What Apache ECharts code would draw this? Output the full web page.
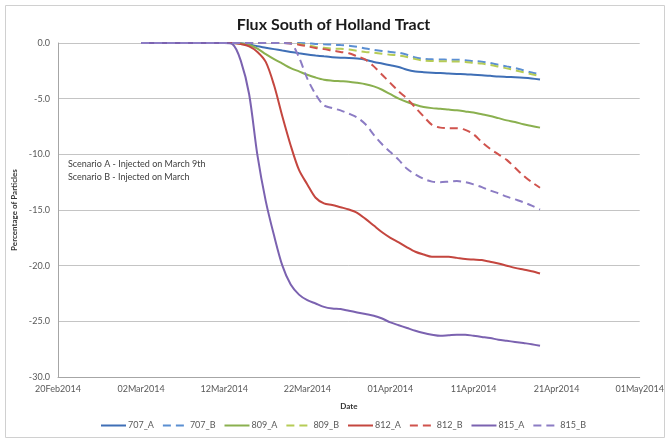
<!DOCTYPE html>
<html>
<head>
<meta charset="utf-8">
<script src="https://cdn.jsdelivr.net/npm/echarts@6/dist/echarts.min.js"></script>
<style>
html,body{margin:0;padding:0;background:#fff;}
#chart{width:667px;height:440px;}
</style>
</head>
<body>
<div id="chart"></div>
<script>
// Days counted from 20Feb2014 (day 0); data run daily from 02Mar2014 (day 10) to 19Apr2014 (day 58)
const days = [10,11,12,13,14,15,16,17,18,19,20,21,22,23,24,25,26,27,28,29,30,31,32,33,34,35,36,37,38,39,40,41,42,43,44,45,46,47,48,49,50,51,52,53,54,55,56,57,58];

const s707_A = [0,0,0,0,0,0,0,0,0,0,0,0,
  -0.03,-0.12,-0.3,-0.42,-0.55,-0.68,-0.8,-0.92,-1.03,-1.12,-1.2,-1.27,-1.32,-1.35,-1.4,-1.5,-1.7,-1.85,-2.0,-2.15,-2.4,-2.55,-2.62,-2.67,-2.7,-2.75,-2.78,-2.8,-2.85,-2.9,-2.95,-3.02,-3.05,-3.08,-3.12,-3.18,-3.27];
const s707_B = [0,0,0,0,0,0,0,0,0,0,0,0,0,0,0,0,0,0,0,0,
  -0.03,-0.08,-0.12,-0.15,-0.19,-0.24,-0.35,-0.5,-0.62,-0.72,-0.8,-0.88,-1.05,-1.3,-1.42,-1.47,-1.48,-1.5,-1.5,-1.55,-1.62,-1.68,-1.8,-1.95,-2.1,-2.25,-2.45,-2.65,-2.82];
const s809_A = [0,0,0,0,0,0,0,0,0,0,0,0,
  -0.05,-0.15,-0.5,-1.0,-1.45,-1.85,-2.25,-2.55,-2.85,-3.1,-3.3,-3.38,-3.43,-3.48,-3.58,-3.7,-3.9,-4.2,-4.6,-5.0,-5.3,-5.55,-5.75,-5.85,-5.9,-5.98,-6.05,-6.15,-6.25,-6.4,-6.55,-6.75,-6.95,-7.1,-7.3,-7.45,-7.6];
const s809_B = [0,0,0,0,0,0,0,0,0,0,0,0,0,0,0,0,0,0,0,
  -0.1,-0.2,-0.35,-0.43,-0.5,-0.52,-0.58,-0.7,-0.8,-0.88,-0.97,-1.05,-1.12,-1.25,-1.45,-1.58,-1.62,-1.63,-1.65,-1.66,-1.7,-1.78,-1.85,-1.97,-2.12,-2.28,-2.45,-2.62,-2.8,-2.97];
const s812_A = [0,0,0,0,0,0,0,0,0,0,0,0,
  -0.1,-0.3,-0.8,-1.7,-3.8,-6.6,-9.2,-11.4,-12.7,-13.9,-14.4,-14.55,-14.75,-14.95,-15.25,-15.8,-16.4,-17.0,-17.5,-17.9,-18.35,-18.75,-19.0,-19.2,-19.2,-19.2,-19.3,-19.4,-19.45,-19.5,-19.65,-19.8,-20.0,-20.2,-20.35,-20.5,-20.7];
const s812_B = [0,0,0,0,0,0,0,0,0,0,0,0,0,0,0,0,0,0,
  -0.05,-0.15,-0.3,-0.45,-0.55,-0.68,-0.8,-0.92,-1.2,-1.5,-2.1,-2.85,-3.6,-4.35,-5.0,-5.8,-6.6,-7.35,-7.6,-7.65,-7.65,-7.8,-8.2,-8.9,-9.5,-10.0,-10.5,-11.2,-11.9,-12.5,-13.0];
const s815_A = [0,0,0,0,0,0,0,0,0,0,0,
  -0.1,-1.6,-4.6,-10.1,-14.2,-17.3,-20.0,-21.7,-22.6,-23.1,-23.4,-23.7,-23.85,-23.9,-24.05,-24.2,-24.35,-24.5,-24.75,-25.1,-25.35,-25.6,-25.85,-26.05,-26.2,-26.3,-26.25,-26.2,-26.2,-26.3,-26.4,-26.5,-26.65,-26.75,-26.85,-26.95,-27.05,-27.2];
const s815_B = [0,0,0,0,0,0,0,0,0,0,0,0,0,0,0,0,0,0,
  -0.05,-1.3,-3.2,-4.6,-5.6,-5.85,-6.05,-6.35,-6.7,-7.3,-8.25,-9.1,-9.8,-10.5,-11.3,-11.8,-12.2,-12.45,-12.5,-12.45,-12.4,-12.5,-12.7,-12.95,-13.25,-13.5,-13.8,-14.05,-14.3,-14.6,-14.96];

const seriesNames = ['707_A','707_B','809_A','809_B','812_A','812_B','815_A','815_B'];
const seriesValues = [s707_A,s707_B,s809_A,s809_B,s812_A,s812_B,s815_A,s815_B];
const seriesColors = ['#3F6FB6','#5B8FD2','#8AB04F','#B6CC56','#C4463F','#D0534D','#7B62B0','#8C7CC4'];
const seriesDashed = [false,true,false,true,false,true,false,true];

const monthNames = ['Jan','Feb','Mar','Apr','May','Jun','Jul','Aug','Sep','Oct','Nov','Dec'];

function dayLabel(v){
  const d = new Date(Date.UTC(2014,1,20 + Math.round(v)));
  const dd = String(d.getUTCDate()).padStart(2,'0');
  return dd + monthNames[d.getUTCMonth()] + d.getUTCFullYear();
}

const FONT = 'Lato, "Open Sans", sans-serif';

const series = seriesNames.map((name,i)=>({
  name: name,
  type: 'line',
  data: days.map((d,j)=>[d, seriesValues[i][j]]),
  symbol: 'none',
  smooth: 0.3,
  lineStyle: {
    color: seriesColors[i],
    width: 2,
    type: seriesDashed[i] ? [8,5] : 'solid'
  },
  itemStyle: {color: seriesColors[i]},
  emphasis: {disabled: true},
  animation: false
}));

const chart = echarts.init(document.getElementById('chart'), null, {renderer:'canvas'});
chart.setOption({
  animation: false,
  backgroundColor: '#ffffff',
  title: {
    text: 'Flux South of Holland Tract',
    left: 'center',
    top: 12,
    textStyle: {fontFamily: FONT, fontSize: 16, fontWeight: 'bold', color: '#1a1a1a'}
  },
  grid: {left: 58, right: 25, top: 43, bottom: 63, containLabel: false},
  xAxis: {
    type: 'value',
    min: 0, max: 70, interval: 10,
    name: 'Date',
    nameLocation: 'middle',
    nameGap: 25,
    nameTextStyle: {fontFamily: FONT, fontSize: 8, fontWeight: 'bold', color: '#333'},
    axisLine: {onZero: false, lineStyle: {color: '#a6a6a6', width: 1}},
    axisTick: {show: false},
    splitLine: {show: false},
    axisLabel: {
      fontFamily: FONT, fontSize: 9, color: '#595959', margin: 8,
      showMinLabel: true, showMaxLabel: true,
      formatter: v => dayLabel(v)
    }
  },
  yAxis: {
    type: 'value',
    min: -30, max: 0, interval: 5,
    name: 'Percentage of Particles',
    nameLocation: 'middle',
    nameGap: 36,
    nameRotate: 90,
    nameTextStyle: {fontFamily: FONT, fontSize: 8, fontWeight: 'bold', color: '#333'},
    axisLine: {show: true, onZero: false, lineStyle: {color: '#a6a6a6', width: 1}},
    axisTick: {show: false},
    splitLine: {show: true, lineStyle: {color: '#c4c4c4', width: 1}},
    axisLabel: {
      fontFamily: FONT, fontSize: 9, color: '#595959', margin: 8,
      formatter: v => (Math.abs(v) < 1e-9 ? 0 : v).toFixed(1)
    }
  },
  legend: {
    data: seriesNames,
    left: 100,
    top: 421,
    padding: 0,
    itemWidth: 25,
    itemHeight: 10,
    itemGap: 8,
    itemStyle: {opacity: 0},
    textStyle: {fontFamily: FONT, fontSize: 9, color: '#595959', padding: [0,0,0,-3]},
    selectedMode: false
  },
  graphic: [
    {type: 'rect', silent: true, z: -10,
      shape: {x: 5.5, y: 5.5, width: 659, height: 432},
      style: {fill: 'none', stroke: '#d0d0d0', lineWidth: 1}},
    {type: 'text', left: 68, top: 160, silent: true,
      style: {text: 'Scenario A - Injected on March 9th', fontFamily: FONT, fontSize: 9, fill: '#404040'}},
    {type: 'text', left: 68, top: 173, silent: true,
      style: {text: 'Scenario B - Injected on March', fontFamily: FONT, fontSize: 9, fill: '#404040'}}
  ],
  series: series
});
</script>
</body>
</html>
